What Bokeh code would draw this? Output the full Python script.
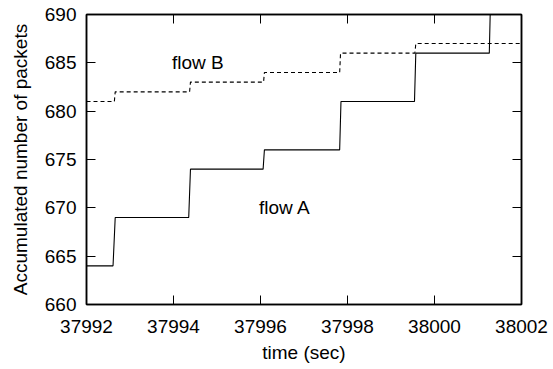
from bokeh.plotting import figure
from bokeh.models import LinearAxis, FixedTicker, Range1d, Label
from bokeh.embed import file_html
from bokeh.resources import INLINE

# ---- data ----
flow_a_time = [37992.0, 37992.61, 37992.66, 37994.35, 37994.39, 37996.06, 37996.09,
               37997.82, 37997.85, 37999.54, 37999.57, 38001.26, 38001.29]
flow_a_pkts = [664, 664, 669, 669, 674, 674, 676, 676, 681, 681, 686, 686, 692]

flow_b_time = [37992.0, 37992.64, 37992.66, 37994.37, 37994.39, 37996.07, 37996.09,
               37997.82, 37997.84, 37999.55, 37999.57, 38002.0]
flow_b_pkts = [681, 681, 682, 682, 683, 683, 684, 684, 686, 686, 687, 687]

x_ticks = [37992, 37994, 37996, 37998, 38000, 38002]
x_tick_labels = ["37992", "37994", "37996", "37998", "38000", "38002"]
y_ticks = [660, 665, 670, 675, 680, 685, 690]
y_tick_labels = ["660", "665", "670", "675", "680", "685", "690"]

labels_text = ["flow B", "flow A"]
labels_x = [37994.56, 37996.56]
labels_y = [685, 670]

FONT = "Liberation Sans"
FS = "19px"

p = figure(width=553, height=369, output_backend="svg", toolbar_location=None,
           x_range=Range1d(37992, 38002), y_range=Range1d(660, 690),
           x_axis_location=None, y_axis_location=None,
           min_border_left=86, min_border_right=32, min_border_top=14, min_border_bottom=65)
p.grid.visible = False
p.background_fill_color = "white"
p.border_fill_color = "white"
p.outline_line_color = "black"
p.outline_line_width = 1.5


def make_axis(ticks, labels, show_labels, title=None):
    ax = LinearAxis(ticker=FixedTicker(ticks=ticks))
    ax.major_label_overrides = {t: (l if show_labels else "") for t, l in zip(ticks, labels)}
    ax.major_tick_in = 9
    ax.major_tick_out = 0
    ax.minor_tick_line_color = None
    ax.major_tick_line_color = "black"
    ax.major_tick_line_width = 1
    ax.axis_line_color = "black"
    ax.axis_line_width = 1.5
    ax.major_label_text_font = FONT
    ax.major_label_text_font_size = FS if show_labels else "0px"
    ax.major_label_text_color = "black"
    if title:
        ax.axis_label = title
        ax.axis_label_text_font = FONT
        ax.axis_label_text_font_size = FS
        ax.axis_label_text_font_style = "normal"
        ax.axis_label_text_color = "black"
    return ax


bottom = make_axis(x_ticks, x_tick_labels, True, "time (sec)")
bottom.major_label_standoff = 15
bottom.axis_label_standoff = 6
left = make_axis(y_ticks, y_tick_labels, True, "Accumulated number of packets")
left.major_label_standoff = 10
left.axis_label_standoff = 11
top = make_axis(x_ticks, x_tick_labels, False)
right = make_axis(y_ticks, y_tick_labels, False)
p.add_layout(bottom, "below")
p.add_layout(left, "left")
p.add_layout(top, "above")
p.add_layout(right, "right")

p.line(flow_a_time, flow_a_pkts, line_color="black", line_width=1.1)
p.line(flow_b_time, flow_b_pkts, line_color="black", line_width=1.1, line_dash="4 3")

for t, x, y in zip(labels_text, labels_x, labels_y):
    p.add_layout(Label(x=x, y=y, text=t, text_align="center", text_baseline="middle",
                       text_font=FONT, text_font_size=FS, text_color="black"))

open("out.html", "w").write(file_html(p, INLINE))
